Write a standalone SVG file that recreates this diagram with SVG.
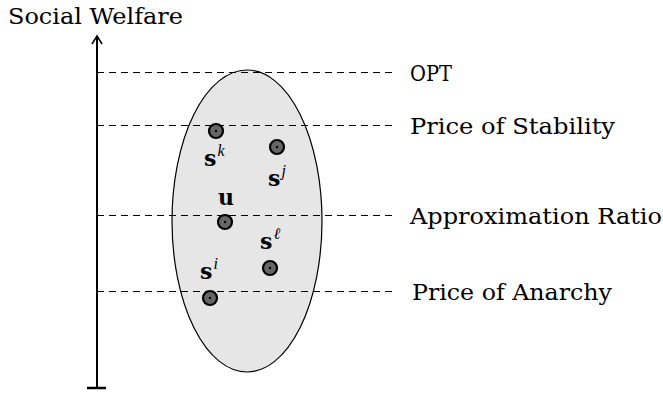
<svg xmlns="http://www.w3.org/2000/svg" width="663" height="395" viewBox="0 0 663 395">
<style>
.lbl{font-family:"DejaVu Serif","Liberation Serif",serif;font-size:22px;fill:#000}
.m{font-family:"DejaVu Serif","Liberation Serif",serif;font-size:22px;font-weight:bold;fill:#000}
.sup{font-family:"Liberation Serif","DejaVu Serif",serif;font-size:16px;font-style:italic;font-weight:normal}
.dash{stroke:#000;stroke-width:1;stroke-dasharray:7,5;fill:none}
.pt{fill:#666;stroke:#000;stroke-width:2.2}
</style>
<rect width="663" height="395" fill="#fff"/>
<g id="region">
<ellipse cx="247" cy="221" rx="75" ry="151" fill="#e6e6e6" stroke="#000" stroke-width="1.2"/>
</g>
<g id="connectors">
<line x1="97" y1="388" x2="97" y2="37" stroke="#000" stroke-width="2"/>
<path d="M92,44 L97,36 L102,44" fill="none" stroke="#000" stroke-width="1.5"/>
<line x1="87" y1="388" x2="106" y2="388" stroke="#000" stroke-width="2.5"/>
<line class="dash" x1="97" y1="72.5" x2="395" y2="72.5"/>
<line class="dash" x1="97" y1="125.5" x2="395" y2="125.5"/>
<line class="dash" x1="97" y1="215.5" x2="395" y2="215.5"/>
<line class="dash" x1="97" y1="291.5" x2="395" y2="291.5"/>
</g>
<g id="axis-label"><text class="lbl" x="8" y="24" textLength="175" lengthAdjust="spacingAndGlyphs">Social Welfare</text></g>
<g id="opt"><text class="lbl" x="410" y="81" textLength="42" lengthAdjust="spacingAndGlyphs">OPT</text></g>
<g id="pos"><text class="lbl" x="410" y="134" textLength="205" lengthAdjust="spacingAndGlyphs">Price of Stability</text></g>
<g id="ar"><text class="lbl" x="410" y="224" textLength="252" lengthAdjust="spacingAndGlyphs">Approximation Ratio</text></g>
<g id="poa"><text class="lbl" x="412" y="300" textLength="200" lengthAdjust="spacingAndGlyphs">Price of Anarchy</text></g>
<g id="sk"><circle class="pt" cx="216" cy="131" r="7"/><circle cx="216" cy="131" r="1.2"/><text class="m" x="204" y="166">s<tspan class="sup" dx="1" dy="-10">k</tspan></text></g>
<g id="sj"><circle class="pt" cx="277" cy="147" r="7"/><circle cx="277" cy="147" r="1.2"/><text class="m" x="268" y="186">s<tspan class="sup" dx="1" dy="-10">j</tspan></text></g>
<g id="u"><circle class="pt" cx="225" cy="222" r="7"/><circle cx="225" cy="222" r="1.2"/><text class="m" x="218" y="205">u</text></g>
<g id="sl"><circle class="pt" cx="270" cy="268" r="7"/><circle cx="270" cy="268" r="1.2"/><text class="m" x="260" y="249">s<tspan class="sup" dx="1" dy="-10">ℓ</tspan></text></g>
<g id="si"><circle class="pt" cx="210" cy="298" r="7"/><circle cx="210" cy="298" r="1.2"/><text class="m" x="200" y="279">s<tspan class="sup" dx="1" dy="-10">i</tspan></text></g>
</svg>
